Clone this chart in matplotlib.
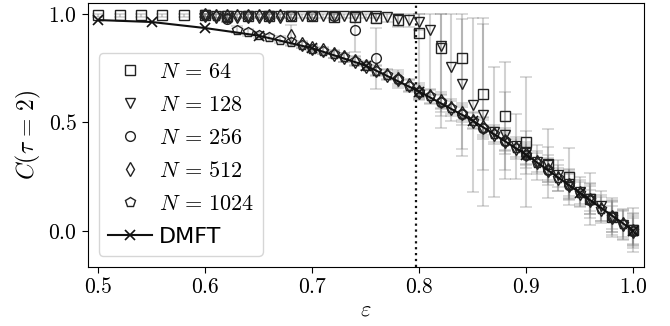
import numpy as np
import matplotlib
matplotlib.use("Agg")
import matplotlib.pyplot as plt
from matplotlib.ticker import FuncFormatter

plt.rcParams['mathtext.fontset'] = 'cm'

# coupling values: N=64 on the full coarse grid, the rest start at 0.6
eps_64 = [0.50, 0.52, 0.54, 0.56, 0.58, 0.60, 0.62, 0.64, 0.66, 0.68, 0.70, 0.72, 0.74,
          0.76, 0.78, 0.80, 0.82, 0.84, 0.86, 0.88, 0.90, 0.92, 0.94, 0.96, 0.98, 1.00]
eps_256 = [0.60, 0.62, 0.64, 0.66, 0.68, 0.70, 0.72, 0.74, 0.76, 0.78, 0.80, 0.82, 0.84,
           0.86, 0.88, 0.90, 0.92, 0.94, 0.96, 0.98, 1.00]
eps_fine = [0.60, 0.61, 0.62, 0.63, 0.64, 0.65, 0.66, 0.67,
            0.68, 0.69, 0.70, 0.71, 0.72, 0.73, 0.74, 0.75, 0.76, 0.77, 0.78, 0.79, 0.80,
            0.81, 0.82, 0.83, 0.84, 0.85, 0.86, 0.87, 0.88, 0.89, 0.90, 0.91, 0.92, 0.93,
            0.94, 0.95, 0.96, 0.97, 0.98, 0.99, 1.00]
eps_dmft = [0.50, 0.55, 0.60, 0.65, 0.70, 0.75, 0.80, 0.85, 0.90, 0.95, 1.00]
eps_c = 0.797

C_64 = [0.995, 0.995, 0.995, 0.995, 0.995, 0.995, 0.99, 0.99, 0.99, 0.99, 0.99, 0.985, 0.985,
        0.98, 0.97, 0.91, 0.845, 0.795, 0.632, 0.53, 0.41, 0.31, 0.25, 0.145, 0.062, 0.003]
err_64 = [0.01, 0.01, 0.01, 0.01, 0.01, 0.01, 0.01, 0.01, 0.01, 0.01, 0.01, 0.015, 0.02,
          0.02, 0.03, 0.30, 0.37, 0.45, 0.35, 0.25, 0.30, 0.16, 0.13, 0.12, 0.09, 0.10]

C_256 = [0.995, 0.975, 0.99, 0.99, 0.99, 0.99, 0.99, 0.925,
         0.795, 0.70, 0.642, 0.595, 0.54, 0.475, 0.414, 0.35, 0.28, 0.21, 0.14, 0.062, 0.0]
err_256 = [0.01, 0.01, 0.01, 0.01, 0.01, 0.01, 0.01, 0.10,
           0.14, 0.04, 0.04, 0.045, 0.05, 0.05, 0.06, 0.06, 0.07, 0.07, 0.08, 0.08, 0.08]

C_128 = [0.995,
         0.99, 0.99, 0.99, 0.99, 0.99, 0.99, 0.99, 0.99, 0.99, 0.99, 0.99, 0.99, 0.99, 0.99, 0.99, 0.99,
         0.985, 0.975, 0.97, 0.965,
         0.925, 0.85, 0.755, 0.675, 0.58, 0.535, 0.455, 0.44, 0.39, 0.36,
         0.315, 0.305, 0.255, 0.215, 0.18, 0.145, 0.115, 0.065, 0.025, 0.005]
err_128 = [0.01,
           0.01, 0.01, 0.01, 0.01, 0.01, 0.01, 0.01, 0.01, 0.01, 0.01, 0.01, 0.01, 0.01, 0.01, 0.01, 0.01,
           0.02, 0.03, 0.03, 0.04,
           0.30, 0.32, 0.25, 0.30, 0.40, 0.42, 0.30, 0.20, 0.15, 0.10,
           0.08, 0.08, 0.07, 0.07, 0.07, 0.07, 0.07, 0.07, 0.07, 0.07]

C_512 = [0.995,
         0.99, 0.99, 0.99, 0.99, 0.99, 0.99, 0.99, 0.90,
         0.86, 0.842, 0.832, 0.815, 0.80, 0.784, 0.762, 0.74, 0.72, 0.70, 0.672, 0.642,
         0.62, 0.597, 0.568, 0.542, 0.508, 0.477, 0.445, 0.416, 0.382, 0.352,
         0.315, 0.282, 0.245, 0.21, 0.175, 0.142, 0.10, 0.062, 0.03, 0.0]
err_512 = [0.01,
           0.01, 0.01, 0.01, 0.01, 0.01, 0.01, 0.01, 0.05,
           0.015, 0.015, 0.015, 0.02, 0.02, 0.02, 0.02, 0.025, 0.025, 0.03, 0.03, 0.03,
           0.035, 0.035, 0.04, 0.04, 0.04, 0.045, 0.045, 0.05, 0.05, 0.05,
           0.055, 0.055, 0.06, 0.06, 0.06, 0.065, 0.065, 0.07, 0.07, 0.07]

C_1024 = [0.995,
          0.99, 0.98, 0.928, 0.915, 0.902, 0.892, 0.882, 0.872,
          0.857, 0.84, 0.83, 0.814, 0.80, 0.782, 0.76, 0.738, 0.72, 0.70, 0.67, 0.64,
          0.62, 0.595, 0.567, 0.54, 0.507, 0.475, 0.444, 0.413, 0.382, 0.35,
          0.314, 0.28, 0.245, 0.21, 0.174, 0.14, 0.10, 0.061, 0.03, 0.0]
err_1024 = [0.01,
            0.01, 0.015, 0.015, 0.015, 0.015, 0.015, 0.015, 0.015,
            0.015, 0.015, 0.015, 0.015, 0.02, 0.02, 0.02, 0.02, 0.02, 0.025, 0.025, 0.025,
            0.03, 0.03, 0.03, 0.03, 0.035, 0.035, 0.035, 0.04, 0.04, 0.04,
            0.045, 0.045, 0.045, 0.05, 0.05, 0.05, 0.055, 0.055, 0.06, 0.06]

C_dmft = [0.972, 0.963, 0.935, 0.90, 0.842, 0.762, 0.642, 0.508, 0.35, 0.175, 0.0]

series = [
    (eps_64, C_64, err_64, 's', r'$N\,=\,64$'),
    (eps_fine, C_128, err_128, 'v', r'$N\,=\,128$'),
    (eps_256, C_256, err_256, 'o', r'$N\,=\,256$'),
    (eps_fine, C_512, err_512, 'd', r'$N\,=\,512$'),
    (eps_fine, C_1024, err_1024, 'p', r'$N\,=\,1024$'),
]

fig = plt.figure(figsize=(6.7, 3.26), dpi=100)
ax = fig.add_axes([0.1306, 0.1819, 0.8306, 0.8098])

# error bars first, underneath everything; capped at C=1
for x, y, e, m, lab in series:
    y = np.array(y)
    e = np.array(e)
    hi = np.minimum(e, 1.0 - y)
    ax.errorbar(x, y, yerr=[e, hi], fmt='none', ecolor='gray', alpha=0.35,
                elinewidth=1.5, capsize=4, capthick=1.2, zorder=1)

for x, y, e, m, lab in series:
    ax.plot(x, y, ls='none', marker=m, ms=7, mfc='none', mec='#222222', mew=1.0,
            label=lab, zorder=3)

ax.plot(eps_dmft, C_dmft, color='#111111', lw=1.5, marker='x', ms=7, mew=1.2,
        label='DMFT', zorder=4)

ax.axvline(eps_c, color='#111111', ls=':', lw=1.6, zorder=2)

ax.set_xlim(0.49, 1.01)
ax.set_ylim(-0.166, 1.052)
ax.set_xticks([0.5, 0.6, 0.7, 0.8, 0.9, 1.0])
ax.set_yticks([0.0, 0.5, 1.0])
ax.xaxis.set_major_formatter(FuncFormatter(lambda v, p: r'$%.1f$' % v))
ax.yaxis.set_major_formatter(FuncFormatter(lambda v, p: r'$%.1f$' % v))
ax.tick_params(labelsize=15.5, length=4, width=0.8)
ax.set_xlabel(r'$\varepsilon$', fontsize=16, labelpad=2)
ax.set_ylabel(r'$C(\tau\,=\,2)$', fontsize=17)

ax.legend(loc='lower left', fontsize=16, handlelength=2.0, handletextpad=0.3,
          labelspacing=0.58)

fig.savefig('out.png', dpi=100)
